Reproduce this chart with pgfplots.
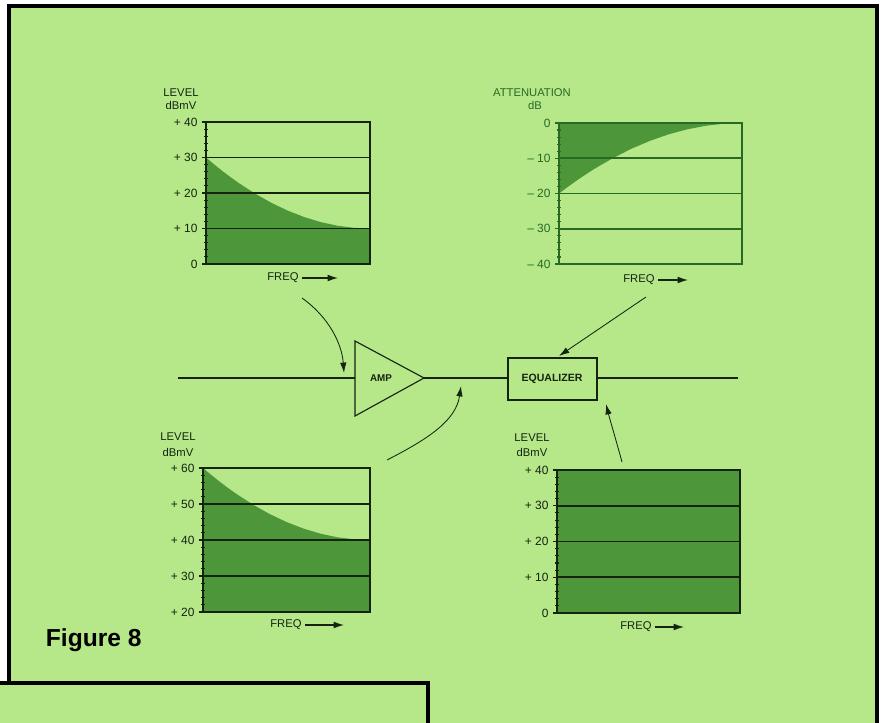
\documentclass[border=0pt]{standalone}
\usepackage{pgfplots}
\pgfplotsset{compat=1.18}
\usepackage{fontspec}
\setmainfont{Liberation Sans}
\usetikzlibrary{arrows.meta}
\definecolor{bg}{RGB}{182,232,138}
\definecolor{dg}{RGB}{78,150,58}
\definecolor{ln}{RGB}{20,36,16}
\definecolor{ag}{RGB}{40,105,35}
\pgfplotsset{
  mini/.style={
    scale only axis, xmin=0, xmax=1, xtick=\empty,
    minor y tick num=4, ymajorgrids, axis on top,
    tick align=center, ytick pos=left,
    major tick length=5pt, minor tick length=3pt,
    every tick/.style={ln, line width=0.8pt},
    axis line style={ln, line width=1pt},
    grid style={ln, line width=1.1pt},
    yticklabel style={font=\fontsize{8.5}{9}\selectfont, text=ln},
  }
}
\begin{document}
\begin{tikzpicture}[x=0.25mm, y=-0.25mm]
\useasboundingbox (0,0) rectangle (882,723);
\fill[white] (0,0) rectangle (882,723);
\fill[bg] (9,6) rectangle (877,723);
\fill[bg] (0,683) rectangle (428,723);
\draw[black, line width=1mm] (9,683) -- (9,6) -- (877,6) -- (877,723);
\draw[black, line width=1mm] (0,683) -- (428,683) -- (428,723);

% ---- plot 1: level in
\begin{axis}[mini, at={(51.5mm,-66mm)}, anchor=south west, width=41mm, height=35.5mm,
  ymin=0, ymax=40, ytick={0,10,20,30,40}, yticklabels={0,+ 10,+ 20,+ 30,+ 40}]
\addplot[fill=dg, draw=none] table {
0 30
0.05 28.05
0.1 26.2
0.15 24.45
0.2 22.8
0.3 19.8
0.4 17.2
0.5 15.0
0.6 13.2
0.7 11.8
0.8 10.8
0.9 10.2
1.0 10.0
} \closedcycle;
\end{axis}

% ---- plot 2: attenuation
\begin{axis}[mini, at={(139.75mm,-66mm)}, anchor=south west, width=45.75mm, height=35.25mm,
  ymin=-40, ymax=0, ytick={-40,-30,-20,-10,0}, yticklabels={-- 40,-- 30,-- 20,-- 10,0},
  axis line style={ag, line width=1pt}, grid style={ag, line width=1.1pt},
  every tick/.style={ag, line width=0.8pt},
  yticklabel style={text=ag}]
\addplot[fill=dg, draw=none] table {
0 -20
0.05 -18.05
0.1 -16.2
0.15 -14.45
0.2 -12.8
0.3 -9.8
0.4 -7.2
0.5 -5.0
0.6 -3.2
0.7 -1.8
0.8 -0.8
0.9 -0.2
1.0 0
} \closedcycle;
\end{axis}

% ---- plot 3: amplified level
\begin{axis}[mini, at={(50.75mm,-153mm)}, anchor=south west, width=41.75mm, height=36mm,
  ymin=20, ymax=60, ytick={20,30,40,50,60}, yticklabels={+ 20,+ 30,+ 40,+ 50,+ 60}]
\addplot[fill=dg, draw=none] table {
0 60
0.05 58.05
0.1 56.2
0.15 54.45
0.2 52.8
0.3 49.8
0.4 47.2
0.5 45.0
0.6 43.2
0.7 41.8
0.8 40.8
0.9 40.2
1.0 40.0
} \closedcycle;
\end{axis}

% ---- plot 4: equalized level
\begin{axis}[mini, at={(139.25mm,-153.25mm)}, anchor=south west, width=45.75mm, height=35.75mm,
  ymin=0, ymax=40, ytick={0,10,20,30,40}, yticklabels={0,+ 10,+ 20,+ 30,+ 40}]
\addplot[fill=dg, draw=none] table {
0 40
1 40
} \closedcycle;
\end{axis}

% ---- axis titles
\begin{scope}[font=\fontsize{8}{9}\selectfont, text=ln]
\node at (181,93) {LEVEL};
\node at (181,105) {dBmV};
\node[text=ag] at (532,93) {ATTENUATION};
\node[text=ag] at (535,105) {dB};
\node at (178,437) {LEVEL};
\node at (178,452) {dBmV};
\node at (532,438) {LEVEL};
\node at (532,452) {dBmV};
\node[anchor=west, inner sep=0pt] at (267,278) {FREQ};
\node[anchor=west, inner sep=0pt] at (623,280) {FREQ};
\node[anchor=west, inner sep=0pt] at (270,625) {FREQ};
\node[anchor=west, inner sep=0pt] at (620,627) {FREQ};
\end{scope}
\begin{scope}[ln, line width=0.8pt, -{Latex[length=2.6mm,width=1.7mm]}]
\draw (302,278) -- (338,278);
\draw (658,280) -- (688,280);
\draw (305,625) -- (344,625);
\draw (655,627) -- (684,627);
\end{scope}

% ---- block diagram
\begin{scope}[ln, line width=0.8pt]
\draw (178,378) -- (355,378);
\draw (424,378) -- (508,378);
\draw (597,378) -- (738,378);
\draw (355,341) -- (355,416) -- (424,378) -- cycle;
\draw (508,358) rectangle (597,400);
\end{scope}
\node[font=\bfseries\fontsize{7}{8}\selectfont, text=ln] at (381,378) {AMP};
\node[font=\bfseries\fontsize{7.5}{8}\selectfont, text=ln] at (552,379) {EQUALIZER};
\begin{scope}[ln, line width=0.6pt, -{Latex[length=2.6mm,width=1.6mm]}]
\draw (302,298) .. controls (330,318) and (342,345) .. (344,373);
\draw (646,297) -- (559,356);
\draw (387,460) .. controls (430,438) and (456,420) .. (461,386);
\draw (622,462) .. controls (616,440) and (610,420) .. (606,404);
\end{scope}

\node[anchor=west, font=\bfseries\fontsize{17.5}{20}\selectfont, text=black] at (41,640) {Figure 8};
\end{tikzpicture}
\end{document}
